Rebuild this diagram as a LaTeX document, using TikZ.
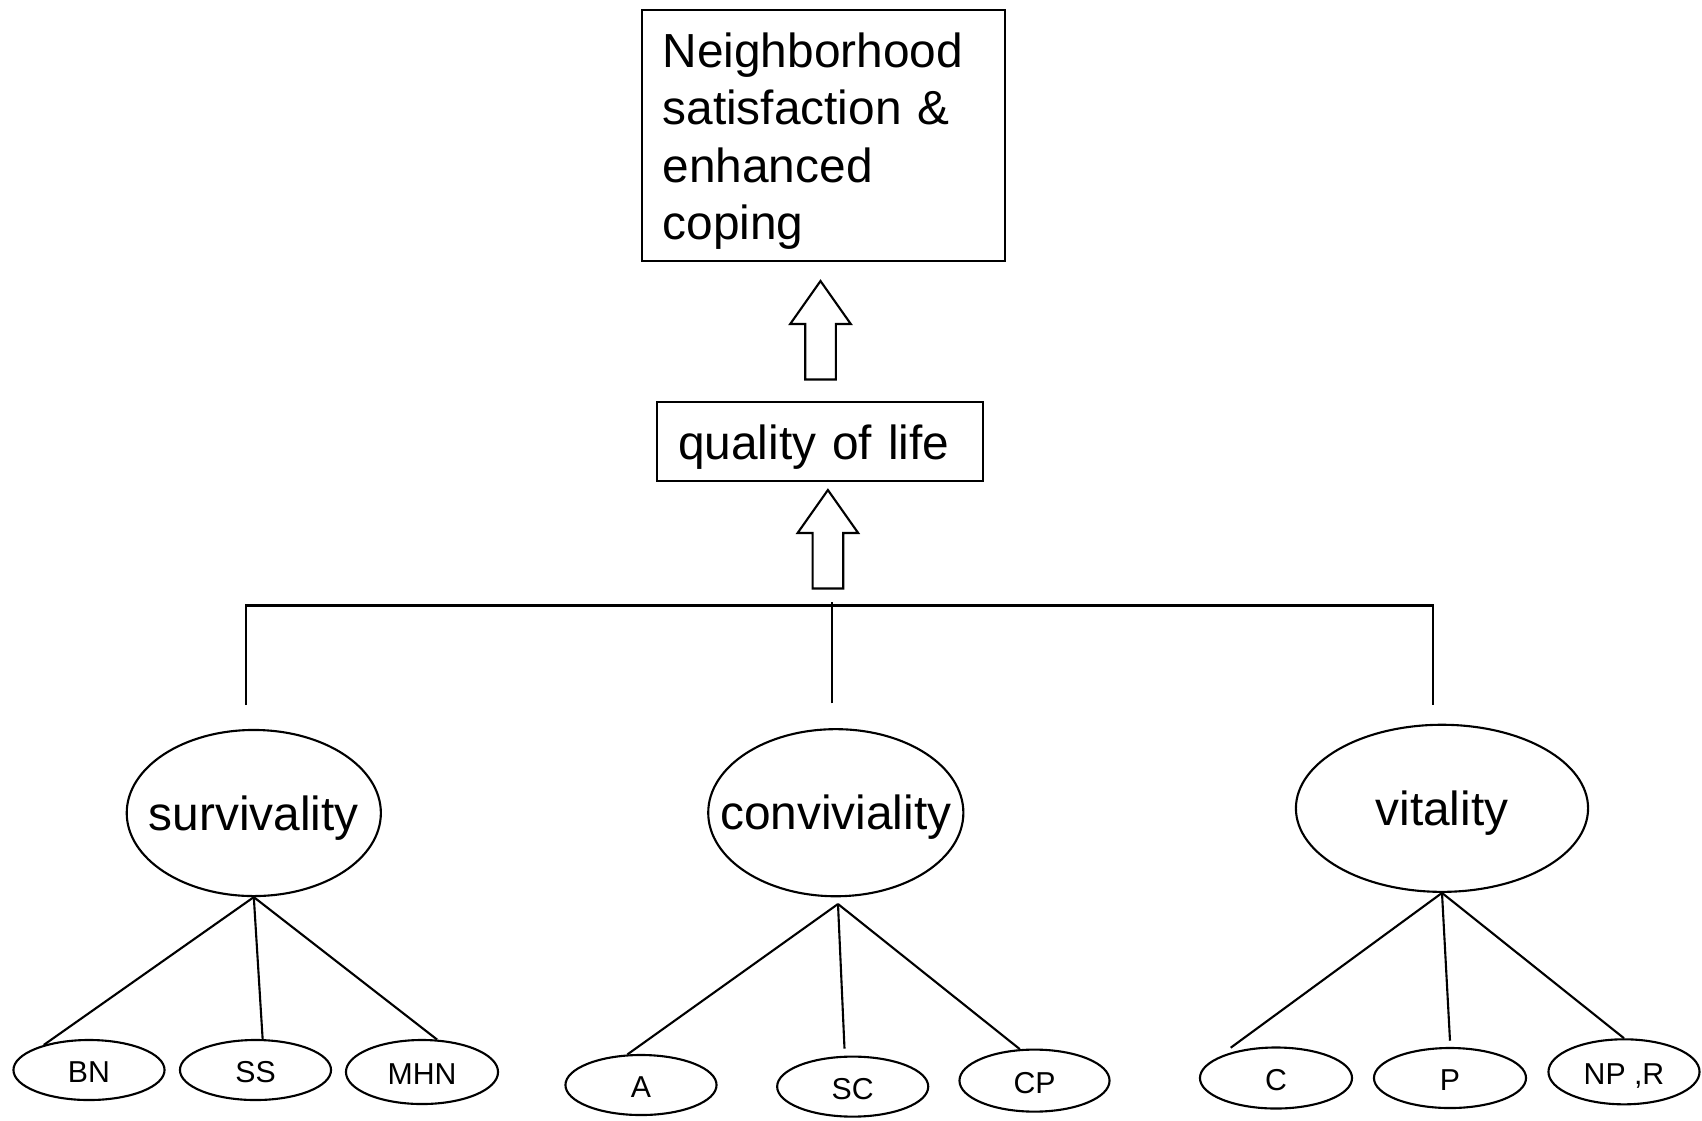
\documentclass[tikz,border=0pt]{standalone}
\usepackage{fontspec}
\setmainfont{Liberation Sans}
\usetikzlibrary{shapes.geometric}
\newcommand{\BigText}{\fontsize{13.6pt}{16.35pt}\selectfont}
\newcommand{\LeafText}{\fontsize{8.6pt}{10pt}\selectfont}
\newcommand{\Lift}{\rule{0pt}{0.95em}}
\newcommand{\HollowArrow}[2]{%
  \draw ({#1-15.3},{#2+98.5}) -- ({#1-15.3},{#2+43}) -- ({#1-30.3},{#2+43}) -- (#1,#2)
     -- ({#1+30.3},{#2+43}) -- ({#1+15.3},{#2+43}) -- ({#1+15.3},{#2+98.5}) -- cycle;}

\begin{document}
\begin{tikzpicture}[x=0.01cm, y=-0.01cm, line width=0.6pt,
  textbox/.style={rectangle, draw, font=\BigText, align=left},
  topic/.style={ellipse, draw, inner sep=0pt, font=\BigText},
  leaf/.style={ellipse, draw, inner sep=0pt, font=\LeafText, text height=7.2pt, text depth=0pt}]
%\draw [help lines, step=100] (0,0) grid (1702,1120);
\useasboundingbox (0,0) rectangle (1702,1120);

\node[textbox, anchor=north west, text width=3.21cm, inner xsep=0.21cm, inner ysep=0.05cm, minimum height=2.51cm] (goal) at (640.5,9) {\Lift Neighborhood\\ satisfaction \&\\ enhanced\\ coping};
\node[textbox, anchor=west, text width=2.84cm, inner xsep=0.21cm, inner ysep=0.05cm, minimum height=0.79cm] (qol) at (656,441.5) {\Lift quality of life};

\node[topic, minimum width=2.54cm, minimum height=1.66cm] (sv) at (253.8,813)   {\makebox[0pt]{\rule{0pt}{0.92em}survivality}};
\node[topic, minimum width=2.55cm, minimum height=1.67cm] (cv) at (835.8,812.7) {\makebox[0pt]{\rule{0pt}{0.92em}conviviality}};
\node[topic, minimum width=2.92cm, minimum height=1.67cm] (vt) at (1442,808.3)  {\makebox[0pt]{\rule{0pt}{0.92em}vitality}};

\node[leaf, minimum width=1.51cm, minimum height=0.60cm] (bn)  at (89,1070)     {BN};
\node[leaf, minimum width=1.51cm, minimum height=0.60cm] (ss)  at (255.5,1070)  {SS};
\node[leaf, minimum width=1.52cm, minimum height=0.64cm] (mhn) at (422,1072)    {MHN};
\node[leaf, minimum width=1.51cm, minimum height=0.60cm] (a)   at (641,1085)    {A};
\node[leaf, minimum width=1.51cm, minimum height=0.60cm] (sc)  at (852.7,1086.6) {SC};
\node[leaf, minimum width=1.50cm, minimum height=0.62cm] (cp)  at (1034.5,1080.6) {CP};
\node[leaf, minimum width=1.52cm, minimum height=0.61cm] (c)   at (1276,1078)   {C};
\node[leaf, minimum width=1.52cm, minimum height=0.60cm] (p)   at (1450,1078)   {P};
\node[leaf, minimum width=1.51cm, minimum height=0.65cm] (npr) at (1624,1071.8) {NP ,R};

% Block arrows
\HollowArrow{820.5}{281}
\HollowArrow{827.9}{490}

% Bracket
\coordinate (jtop) at (831.7,605.5);
\coordinate (jl)   at (246,705);
\coordinate (jm)   at (831.7,703.3);
\coordinate (jr)   at (1433.3,705);
\draw (jl) |- (jtop) -| (jr);
\draw (jm) -- ([yshift=1pt]jtop);

% Edges
\coordinate (cvroot) at (838,904);
\coordinate (scend)  at (844.5,1048.6);
\coordinate (cend)   at (1230.7,1047.7);
\coordinate (pend)   at (1450,1040.7);
\draw (sv.south) -- (bn.151);
\draw (sv.south) -- (ss.77);
\draw (sv.south) -- (mhn.65);
\draw (cvroot) -- (a.114);
\draw (cvroot) -- (scend);
\draw (cvroot) -- (cp.115);
\draw (vt.south) -- (cend);
\draw (vt.south) -- (pend);
\draw (vt.south) -- (npr.north);
\end{tikzpicture}
\end{document}
